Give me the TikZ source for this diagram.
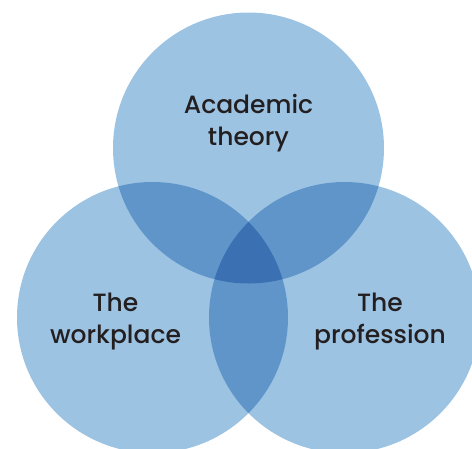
\documentclass[tikz,border=0pt]{standalone}
\usepackage{fontspec}
\setmainfont{Poppins}[UprightFont={* Medium}]
\definecolor{setblue}{RGB}{157,195,227}
\definecolor{inkdark}{RGB}{35,31,32}
\tikzset{
    setcircle/.style={fill=setblue,blend mode=multiply},
    setlabel/.style={align=center,text=inkdark,font=\fontsize{25}{32}\selectfont}
}
\begin{document}
\begin{tikzpicture}[x=1pt,y=-1pt]
        % Three overlapping sets
        \useasboundingbox (0,0) rectangle (472,448);
        \clip (0,0) rectangle (472,448);
        \fill[setcircle] (248.5,148) circle (135.5);
        \fill[setcircle] (152.5,317.5) circle (135.5);
        \fill[setcircle] (344.5,317.5) circle (135.5);
        \node[setlabel] (theory) at (248.5,123.5) {Academic\\theory};
        \node[setlabel] (workplace) at (115.5,322) {The\\workplace};
        \node[setlabel] (profession) at (380,322) {The\\profession};
    \end{tikzpicture}
\end{document}
